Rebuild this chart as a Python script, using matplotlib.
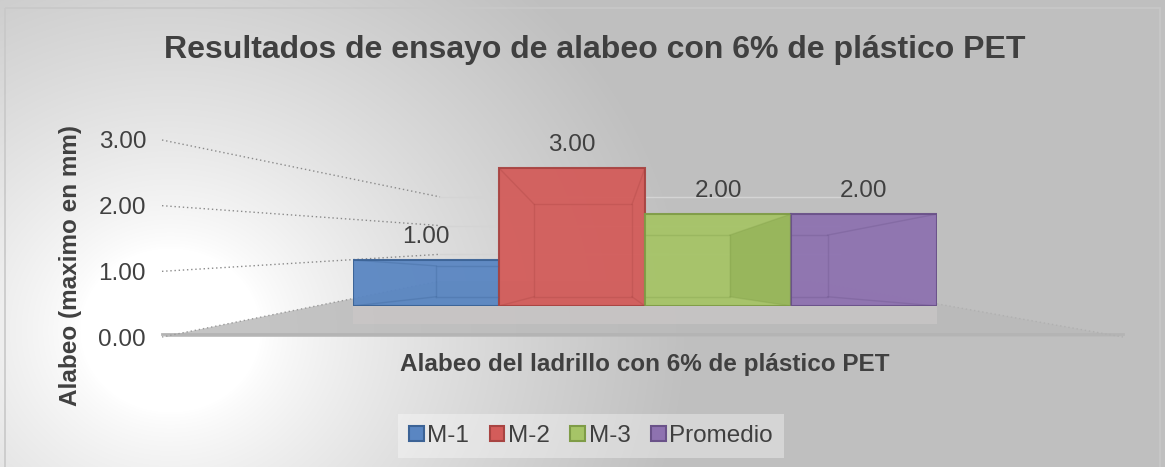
import numpy as np
import matplotlib.pyplot as plt
from matplotlib.patches import Polygon, Rectangle, Patch

# chart data
series = ["M-1", "M-2", "M-3", "Promedio"]
values = [1.00, 3.00, 2.00, 2.00]
face_colors = ["#5a86c2", "#d35c5a", "#a6c467", "#8e72b0"]
edge_colors = ["#3c6396", "#a84442", "#7f9c47", "#6a5289"]
y_ticks = [0, 1, 2, 3]

title = "Resultados de ensayo de alabeo con 6% de plástico PET"
x_title = "Alabeo del ladrillo con 6% de plástico PET"
y_title = "Alabeo (maximo en mm)"

plt.rcParams['font.family'] = ['Liberation Sans', 'DejaVu Sans']
text_col = "#404040"

W, H = 1165, 467
fig = plt.figure(figsize=(W / 100, H / 100), dpi=100)

# background with radial gradient
bg = fig.add_axes([0, 0, 1, 1])
bg.set_xlim(0, W)
bg.set_ylim(H, 0)
bg.axis('off')
yy, xx = np.mgrid[0:H, 0:W]
d = np.hypot(xx - 170, (yy - 330) * 1.1)
t = np.clip((d - 90) / 430, 0, 1) ** 0.8
shade = 1.0 - 0.25 * t
bg.imshow(np.dstack([shade, shade, shade]), extent=(0, W, H, 0), aspect='auto')
bg.add_patch(Rectangle((5, 8), 1155, 470, fill=False, edgecolor="#c8c8c8", lw=1.2))

# floor of the 3d plot
floor = Polygon([(162, 337), (440, 281), (809, 281), (1123, 337)], closed=True,
                facecolor="#bababa", edgecolor="none", alpha=0.85)
bg.add_patch(floor)
bg.add_patch(Rectangle((353, 306), 584, 18, facecolor="#cbc7c7", edgecolor="none", alpha=0.7))
bg.plot([162, 1123], [334, 334], color="#b4b4b4", lw=2)
bg.plot([162, 440], [337, 281], color="#9a9a9a", lw=1, ls=(0, (1, 2)))
bg.plot([1123, 809], [337, 281], color="#b0b0b0", lw=1, ls=(0, (1, 2)))

# value axis (front) and perspective grid lines
ax_t = fig.add_axes([160 / W, (H - 337) / H, 280 / W, 197 / H])
ax_t.set_ylim(0, 3)
ax_t.set_xlim(0, 1)
ax_t.patch.set_alpha(0)
for s in ax_t.spines.values():
    s.set_visible(False)
ax_t.set_xticks([])
ax_t.set_yticks(y_ticks)
ax_t.set_yticklabels([f"{v:.2f}" for v in y_ticks], fontsize=17.5, color=text_col)
ax_t.tick_params(axis='y', length=0, pad=10)
ax_t.set_ylabel(y_title, fontsize=17.5, fontweight='bold', color=text_col)
ax_t.yaxis.set_label_coords(-0.28, 0.365)
for v in y_ticks[1:]:
    y_front = 337 - v * 197 / 3
    y_back = 283 - v * 28.7
    bg.plot([162, 440], [y_front, y_back], color="#8a8a8a", lw=1, ls=(0, (1, 2)))
    bg.plot([440, 840], [y_back, y_back], color="#d4d4d4", lw=1)

# bars
ax = fig.add_axes([353 / W, (H - 306) / H, 584 / W, 46 * 3.4 / H])
ax.set_xlim(-0.5, 3.5)
ax.set_ylim(0, 3.4)
ax.axis('off')
bars = ax.bar(range(len(values)), values, width=1.0, color=face_colors,
              edgecolor=edge_colors, linewidth=1.5, alpha=0.95)

# hint of the back faces seen through the bars
vx, vy, k = 1.23, 0.61, 0.67
for i, (bar, v) in enumerate(zip(bars, values)):
    x0, x1 = i - 0.5, i + 0.5
    bx0, bx1 = vx + (x0 - vx) * k, vx + (x1 - vx) * k
    by0, by1 = vy + (0 - vy) * k, vy + (v - vy) * k
    if i == 2:
        side = Polygon([(bx1, by0), (bx1, by1), (x1, v), (x1, 0)], closed=True,
                       facecolor="#86a84a", edgecolor="none", alpha=0.45)
        ax.add_patch(side)
        side.set_clip_path(bar)
    for xs, ys in [([bx0, bx1, bx1, bx0, bx0], [by0, by0, by1, by1, by0]),
                   ([x0, bx0], [0, by0]), ([x0, bx0], [v, by1]),
                   ([x1, bx1], [0, by0]), ([x1, bx1], [v, by1])]:
        ln, = ax.plot(xs, ys, color=edge_colors[i], lw=1, alpha=0.3)
        ln.set_clip_path(bar)

for i, v in enumerate(values):
    ax.annotate(f"{v:.2f}", (i, v), xytext=(0, 23), textcoords='offset pixels',
                ha='center', va='center', fontsize=17.5, color=text_col,
                annotation_clip=False)

fig.text(595 / W, 1 - 50 / H, title, ha='center', va='center', fontsize=23,
         fontweight='bold', color=text_col)
fig.text(645 / W, 1 - 365 / H, x_title, ha='center', va='center', fontsize=17.5,
         fontweight='bold', color=text_col)

handles = [Patch(facecolor=fc, edgecolor=ec, lw=1.5) for fc, ec in zip(face_colors, edge_colors)]
leg = fig.legend(handles, series, loc='center', bbox_to_anchor=(591 / W, 1 - 436 / H),
                 ncol=4, fontsize=17.5, frameon=True, handlelength=0.6, handleheight=0.6,
                 handletextpad=0.15, columnspacing=0.85, borderpad=0.45)
leg.get_frame().set_facecolor("white")
leg.get_frame().set_alpha(0.35)
leg.get_frame().set_edgecolor("none")
leg.get_frame().set_boxstyle("square", pad=0)
for txt in leg.get_texts():
    txt.set_color(text_col)

fig.savefig("out.png", dpi=100)
